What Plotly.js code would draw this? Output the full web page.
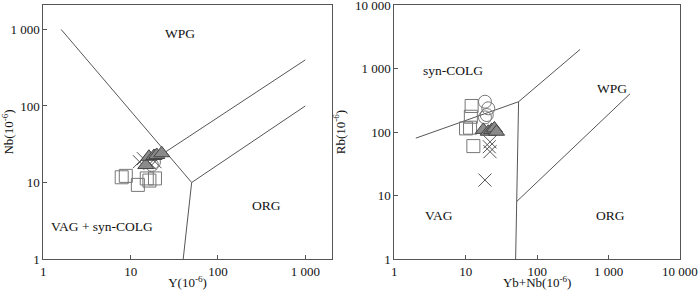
<!DOCTYPE html>
<html><head><meta charset="utf-8">
<script src="https://cdn.plot.ly/plotly-3.0.1.min.js"></script>
<style>html,body{margin:0;padding:0;background:#fff}#c{width:700px;height:290px}</style>
</head><body><div id="c"></div>
<script>
// Left diagram: Nb vs Y
const L_sqY = [7.9, 8.8, 12.1, 15.3, 16.4, 19.0];
const L_sqNb = [11.7, 12.2, 9.3, 11.3, 10.6, 11.3];
const L_triY = [14.9, 16.2, 18.5, 19.9, 22.7];
const L_triNb = [16.9, 21.7, 22.2, 22.9, 24.1];
const L_crossY = [12.6, 14.0, 16.7, 19.0];
const L_crossNb = [18.7, 20.5, 17.8, 18.7];
const L_circY = [17.5, 18.5];
const L_circNb = [17.0, 18.5];
// Left boundaries
const L_b1x = [1.6, 50, 1000], L_b1y = [1000, 10, 100];
const L_b2x = [25, 1000], L_b2y = [25, 400];
const L_b3x = [50, 40], L_b3y = [10, 1];
// Right diagram: Rb vs Yb+Nb
const R_sqX = [12.1, 11.8, 10.1, 11.5, 12.8];
const R_sqRb = [257, 174, 114, 117, 60];
const R_circX = [18.6, 20.7, 19.7, 18.6];
const R_circRb = [300, 236, 185, 170];
const R_triX = [17.6, 20.7, 23.1, 25.2, 27.0];
const R_triRb = [108, 101, 108, 114, 101];
const R_crossX = [21.4, 21.9, 21.9, 18.6];
const R_crossRb = [58.6, 70, 49, 17.5];
// Right boundaries
const R_b1x = [2, 55, 400], R_b1y = [80, 300, 2000];
const R_b2x = [55, 51.5, 50], R_b2y = [300, 8, 1];
const R_b3x = [51.5, 2000], R_b3y = [8, 400];
// Tick labels
const L_xTicks = [1, 10, 100, 1000], L_xText = ['1', '10', '100', '1 000'];
const L_yTicks = [1, 10, 100, 1000], L_yText = ['1', '10', '100', '1 000'];
const R_xTicks = [1, 10, 100, 1000, 10000], R_xText = ['1', '10', '100', '1 000', '10 000'];
const R_yTicks = [1, 10, 100, 1000, 10000], R_yText = ['1', '10', '100', '1 000', '10 000'];

const lineC = '#555';
function bline(x, y, xa, ya) {
  return {x, y, xaxis: xa, yaxis: ya, mode: 'lines', line: {color: lineC, width: 1}, hoverinfo: 'skip', showlegend: false};
}
const sq = {symbol: 'square-open', size: 13, color: '#777', line: {width: 1, color: '#777'}};
const ci = {symbol: 'circle-open', size: 13, color: '#777', line: {width: 1, color: '#777'}};
const tr = {symbol: 'triangle-up', size: 14, color: '#8a8a8a', line: {width: 1, color: '#444'}};
const cr = {symbol: 'x-thin', size: 13, color: '#555', line: {width: 1, color: '#555'}};
function pts(x, y, m, xa, ya) {
  return {x, y, xaxis: xa, yaxis: ya, mode: 'markers', marker: m, showlegend: false};
}
const data = [
  bline(L_b1x, L_b1y, 'x', 'y'), bline(L_b2x, L_b2y, 'x', 'y'), bline(L_b3x, L_b3y, 'x', 'y'),
  bline(R_b1x, R_b1y, 'x2', 'y2'), bline(R_b2x, R_b2y, 'x2', 'y2'), bline(R_b3x, R_b3y, 'x2', 'y2'),
  pts(L_sqY, L_sqNb, sq, 'x', 'y'), pts(L_crossY, L_crossNb, cr, 'x', 'y'),
  pts(L_circY, L_circNb, ci, 'x', 'y'), pts(L_triY, L_triNb, tr, 'x', 'y'),
  pts(R_sqX, R_sqRb, sq, 'x2', 'y2'), pts(R_circX, R_circRb, ci, 'x2', 'y2'),
  pts(R_crossX, R_crossRb, cr, 'x2', 'y2'), pts(R_triX, R_triRb, tr, 'x2', 'y2')
];
const F = 'Liberation Serif, Times New Roman, serif';
function ax(dom, range, tv, tt, title, anchor, isY) {
  return {
    type: 'log', domain: dom, range: range, anchor: anchor,
    tickvals: tv, ticktext: tt, ticks: 'inside', ticklen: 4, tickcolor: '#555',
    showline: true, linecolor: '#555', linewidth: 1, mirror: true,
    showgrid: false, zeroline: false, ticklabeloverflow: 'allow', automargin: false,
    tickfont: {family: F, size: 13, color: '#111'},
    title: {text: title, font: {family: F, size: 13, color: '#111'}, standoff: isY ? 6 : 4}
  };
}
const layout = {
  width: 700, height: 290, margin: {l: 0, r: 0, t: 0, b: 0},
  paper_bgcolor: '#fff', plot_bgcolor: '#fff', showlegend: false,
  xaxis: ax([0.0619, 0.4739], [0, 3.303], L_xTicks, L_xText, 'Y(10<sup>-6</sup>)', 'y', false),
  yaxis: ax([0.1069, 0.9828], [0, 3.32], L_yTicks, L_yText, 'Nb(10<sup>-6</sup>)', 'x', true),
  xaxis2: ax([0.5633, 0.9714], [0, 4.0005], R_xTicks, R_xText, 'Yb+Nb(10<sup>-6</sup>)', 'y2', false),
  yaxis2: ax([0.1069, 0.9828], [0, 4.0005], R_yTicks, R_yText, 'Rb(10<sup>-6</sup>)', 'x2', true),
  annotations: [
    {text: 'WPG', x: 180, y: 33},
    {text: 'ORG', x: 266.7, y: 205.7},
    {text: 'VAG + syn-COLG', x: 102.3, y: 226},
    {text: 'syn-COLG', x: 453.3, y: 70},
    {text: 'WPG', x: 611.7, y: 88.3},
    {text: 'VAG', x: 439.3, y: 215},
    {text: 'ORG', x: 610, y: 215}
  ].map(a => ({text: a.text, x: a.x / 700, y: 1 - a.y / 290, xref: 'paper', yref: 'paper',
    showarrow: false, xanchor: 'center', yanchor: 'middle', font: {family: F, size: 13.5, color: '#111'}}))
};
Plotly.newPlot('c', data, layout, {staticPlot: true});
</script></body></html>
